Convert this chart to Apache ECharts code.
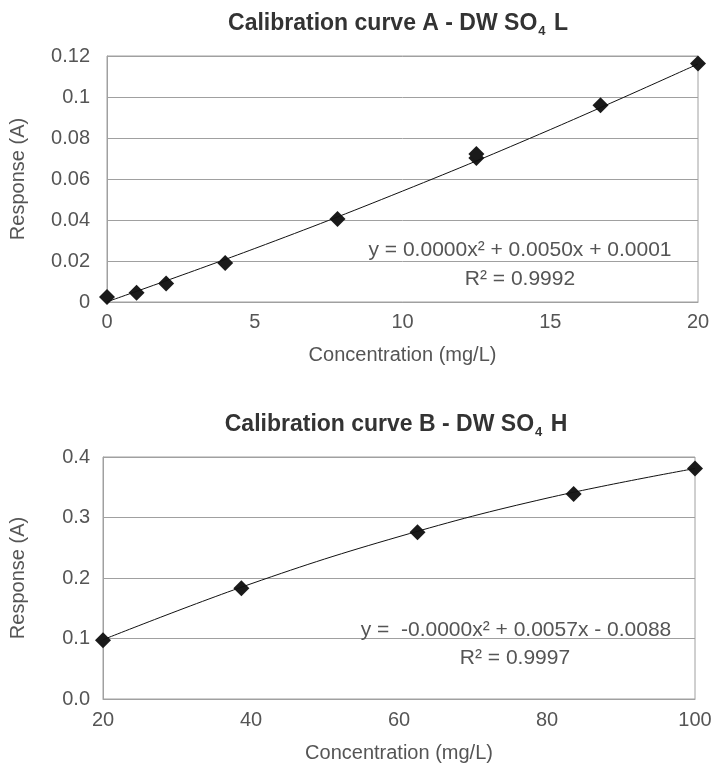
<!DOCTYPE html>
<html>
<head>
<meta charset="utf-8">
<script src="https://cdn.jsdelivr.net/npm/echarts@6/dist/echarts.min.js"></script>
<style>
html,body{margin:0;padding:0;background:#fff;}
#chart{width:725px;height:765px;}
</style>
</head>
<body>
<div id="chart"></div>
<script>
// Chart A data
var concA = [0, 1, 2, 4, 7.8, 12.5, 12.5, 16.7, 20];
var respA = [0.0025, 0.0045, 0.009, 0.019, 0.0405, 0.0702, 0.0722, 0.096, 0.1163];
var trendXA = [0, 5, 10, 15, 20];
var trendYA = [0.0001, 0.0261, 0.0541, 0.0841, 0.1161];
var yTicksA = [0, 0.02, 0.04, 0.06, 0.08, 0.1, 0.12];
var xTicksA = [0, 5, 10, 15, 20];

// Chart B data
var concB = [20, 38.7, 62.5, 83.6, 100];
var respB = [0.097, 0.183, 0.2755, 0.339, 0.381];
var trendXB = [20, 40, 60, 80, 100];
var trendYB = [0.098, 0.1904, 0.2684, 0.332, 0.381];
var yTicksB = [0.0, 0.1, 0.2, 0.3, 0.4];
var xTicksB = [20, 40, 60, 80, 100];

var titleA = 'Calibration curve A - DW SO{sub|4} L';
var titleB = 'Calibration curve B - DW SO{sub|4} H';
var eqA = 'y = 0.0000x² + 0.0050x + 0.0001';
var r2A = 'R² = 0.9992';
var eqB = 'y =  -0.0000x² + 0.0057x - 0.0088';
var r2B = 'R² = 0.9997';

var FONT = '"Liberation Sans", Arial, Helvetica, sans-serif';
var LABEL = '#555555';
var GRID = '#a0a0a0';

function pairs(xs, ys) { return xs.map(function (x, i) { return [x, ys[i]]; }); }

function yAxisCfg(idx, ticks, decimals, gap, margin) {
  return {
    type: 'value', gridIndex: idx,
    min: ticks[0], max: ticks[ticks.length - 1], interval: ticks[1] - ticks[0],
    name: 'Response (A)', nameLocation: 'middle', nameGap: gap,
    nameTextStyle: { fontFamily: FONT, fontSize: 20, color: LABEL },
    axisLine: { show: true, lineStyle: { color: GRID, width: 1 } },
    axisTick: { show: false },
    axisLabel: {
      fontFamily: FONT, fontSize: 20, color: LABEL, margin: margin,
      formatter: function (v) { return decimals === null ? String(+v.toFixed(2)) : v.toFixed(decimals); }
    },
    splitLine: { show: true, lineStyle: { color: GRID, width: 1 } }
  };
}
function xAxisCfg(idx, ticks, gap, margin) {
  return {
    type: 'value', gridIndex: idx,
    min: ticks[0], max: ticks[ticks.length - 1], interval: ticks[1] - ticks[0],
    name: 'Concentration (mg/L)', nameLocation: 'middle', nameGap: gap,
    nameTextStyle: { fontFamily: FONT, fontSize: 20, color: LABEL },
    axisLine: { show: true, onZero: false, lineStyle: { color: GRID, width: 1 } },
    axisTick: { show: false },
    axisLabel: { fontFamily: FONT, fontSize: 20, color: LABEL, margin: margin },
    splitLine: { show: false }
  };
}

var titleStyle = {
  font: 'bold 23px ' + FONT, fill: '#333333', textAlign: 'center', textVerticalAlign: 'middle',
  rich: {
    sub: { fontSize: 13, fontWeight: 'bold', fontFamily: FONT, fill: '#333333', padding: [15, 2, 0, 1] }
  }
};
function txt(text, x, y, align) {
  return { type: 'text', z: 100, style: { text: text, x: x, y: y, textAlign: align, textVerticalAlign: 'middle', font: '21px ' + FONT, fill: LABEL } };
}

var chart = echarts.init(document.getElementById('chart'), null, { renderer: 'canvas' });
chart.setOption({
  animation: false,
  backgroundColor: '#ffffff',
  grid: [
    { left: 107, right: 27, top: 56, height: 246, show: true, borderColor: GRID, borderWidth: 1, containLabel: false },
    { left: 103, right: 30, top: 457, height: 242, show: true, borderColor: GRID, borderWidth: 1, containLabel: false }
  ],
  xAxis: [xAxisCfg(0, xTicksA, 43, 10), xAxisCfg(1, xTicksB, 44, 11)],
  yAxis: [yAxisCfg(0, yTicksA, null, 79, 17), yAxisCfg(1, yTicksB, 1, 75, 13)],
  graphic: [
    { type: 'text', style: Object.assign({ text: titleA, x: 398, y: 24 }, titleStyle) },
    { type: 'text', style: Object.assign({ text: titleB, x: 396, y: 425 }, titleStyle) },
    txt(eqA, 520, 250, 'center'),
    txt(r2A, 520, 279, 'center'),
    txt(eqB, 516, 630, 'center'),
    txt(r2B, 515, 658, 'center')
  ],
  series: [
    {
      type: 'line', xAxisIndex: 0, yAxisIndex: 0, data: pairs(trendXA, trendYA),
      smooth: 0.4, showSymbol: false, silent: true,
      lineStyle: { color: '#111111', width: 1 }
    },
    {
      type: 'scatter', xAxisIndex: 0, yAxisIndex: 0, data: pairs(concA, respA),
      symbol: 'diamond', symbolSize: [16, 16],
      itemStyle: { color: '#1a1a1a', opacity: 1 }
    },
    {
      type: 'line', xAxisIndex: 1, yAxisIndex: 1, data: pairs(trendXB, trendYB),
      smooth: 0.4, showSymbol: false, silent: true,
      lineStyle: { color: '#111111', width: 1 }
    },
    {
      type: 'scatter', xAxisIndex: 1, yAxisIndex: 1, data: pairs(concB, respB),
      symbol: 'diamond', symbolSize: [16, 16],
      itemStyle: { color: '#1a1a1a', opacity: 1 }
    }
  ]
});
</script>
</body>
</html>
